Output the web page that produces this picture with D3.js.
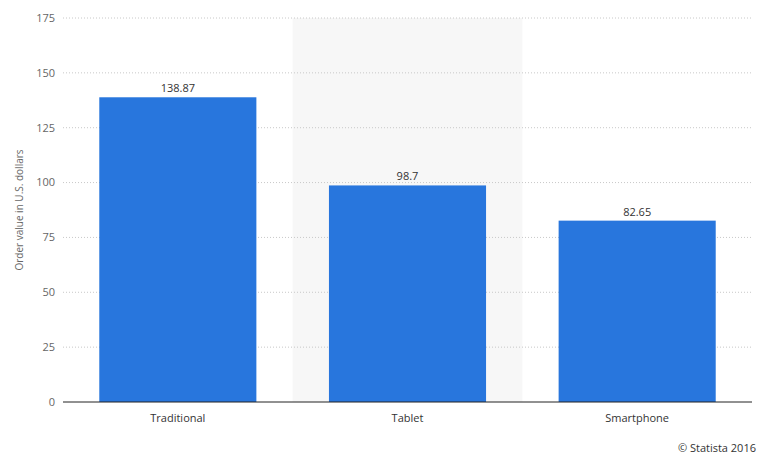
<!DOCTYPE html>
<html>
<head>
<meta charset="utf-8">
<script src="https://cdn.jsdelivr.net/npm/d3@7"></script>
<style>
  body { margin: 0; background: #fff; }
  text { font-family: "Open Sans", "DejaVu Sans", sans-serif; }
</style>
</head>
<body>
<div id="chart"></div>
<script>
const categories = ["Traditional", "Tablet", "Smartphone"];
const values = [138.87, 98.7, 82.65];
const valueLabels = ["138.87", "98.7", "82.65"];
const yTicks = [0, 25, 50, 75, 100, 125, 150, 175];

const width = 769, height = 458;
const margin = { top: 18, right: 17, bottom: 56, left: 63 };
const innerW = width - margin.left - margin.right;
const innerH = height - margin.top - margin.bottom;

const svg = d3.select("#chart").append("svg")
    .attr("width", width)
    .attr("height", height);

const g = svg.append("g").attr("transform", `translate(${margin.left},${margin.top})`);

const x = d3.scaleBand().domain(categories).range([0, innerW]);
const y = d3.scaleLinear().domain([0, 175]).range([innerH, 0]);
const barW = x.bandwidth() * 0.684;

// hovered band highlight
g.append("rect")
    .attr("x", x("Tablet"))
    .attr("y", 0)
    .attr("width", x.bandwidth())
    .attr("height", innerH)
    .attr("fill", "#f7f7f7");

// gridlines
g.selectAll("line.grid")
    .data(yTicks.slice(1))
    .join("line")
    .attr("x1", 0)
    .attr("x2", innerW)
    .attr("y1", d => y(d))
    .attr("y2", d => y(d))
    .attr("stroke", "#c8c8c8")
    .attr("stroke-dasharray", "1,2");

g.selectAll("text.ytick")
    .data(yTicks)
    .join("text")
    .attr("x", -8)
    .attr("y", d => y(d))
    .attr("dy", "0.35em")
    .attr("text-anchor", "end")
    .attr("font-size", 11)
    .attr("fill", "#666")
    .text(d => d);

// bars
g.selectAll("rect.bar")
    .data(values)
    .join("rect")
    .attr("x", (d, i) => x(categories[i]) + (x.bandwidth() - barW) / 2)
    .attr("y", d => y(d))
    .attr("width", barW)
    .attr("height", d => innerH - y(d))
    .attr("fill", "#2876dd");

g.selectAll("text.val")
    .data(values)
    .join("text")
    .attr("x", (d, i) => x(categories[i]) + x.bandwidth() / 2)
    .attr("y", d => y(d) - 5)
    .attr("text-anchor", "middle")
    .attr("font-size", 11)
    .attr("fill", "#333")
    .text((d, i) => valueLabels[i]);

// baseline
g.append("line")
    .attr("x1", 0).attr("x2", innerW)
    .attr("y1", innerH).attr("y2", innerH)
    .attr("stroke", "#222");

g.selectAll("text.xlab")
    .data(categories)
    .join("text")
    .attr("x", d => x(d) + x.bandwidth() / 2)
    .attr("y", innerH + 20)
    .attr("text-anchor", "middle")
    .attr("font-size", 11)
    .attr("fill", "#333")
    .text(d => d);

svg.append("text")
    .attr("transform", `translate(23,${margin.top + innerH / 2}) rotate(-90)`)
    .attr("text-anchor", "middle")
    .attr("font-size", 10)
    .attr("fill", "#666")
    .text("Order value in U.S. dollars");

svg.append("text")
    .attr("x", width - 13)
    .attr("y", 452)
    .attr("text-anchor", "end")
    .attr("font-size", 11)
    .attr("fill", "#333")
    .text("© Statista 2016");
</script>
</body>
</html>
